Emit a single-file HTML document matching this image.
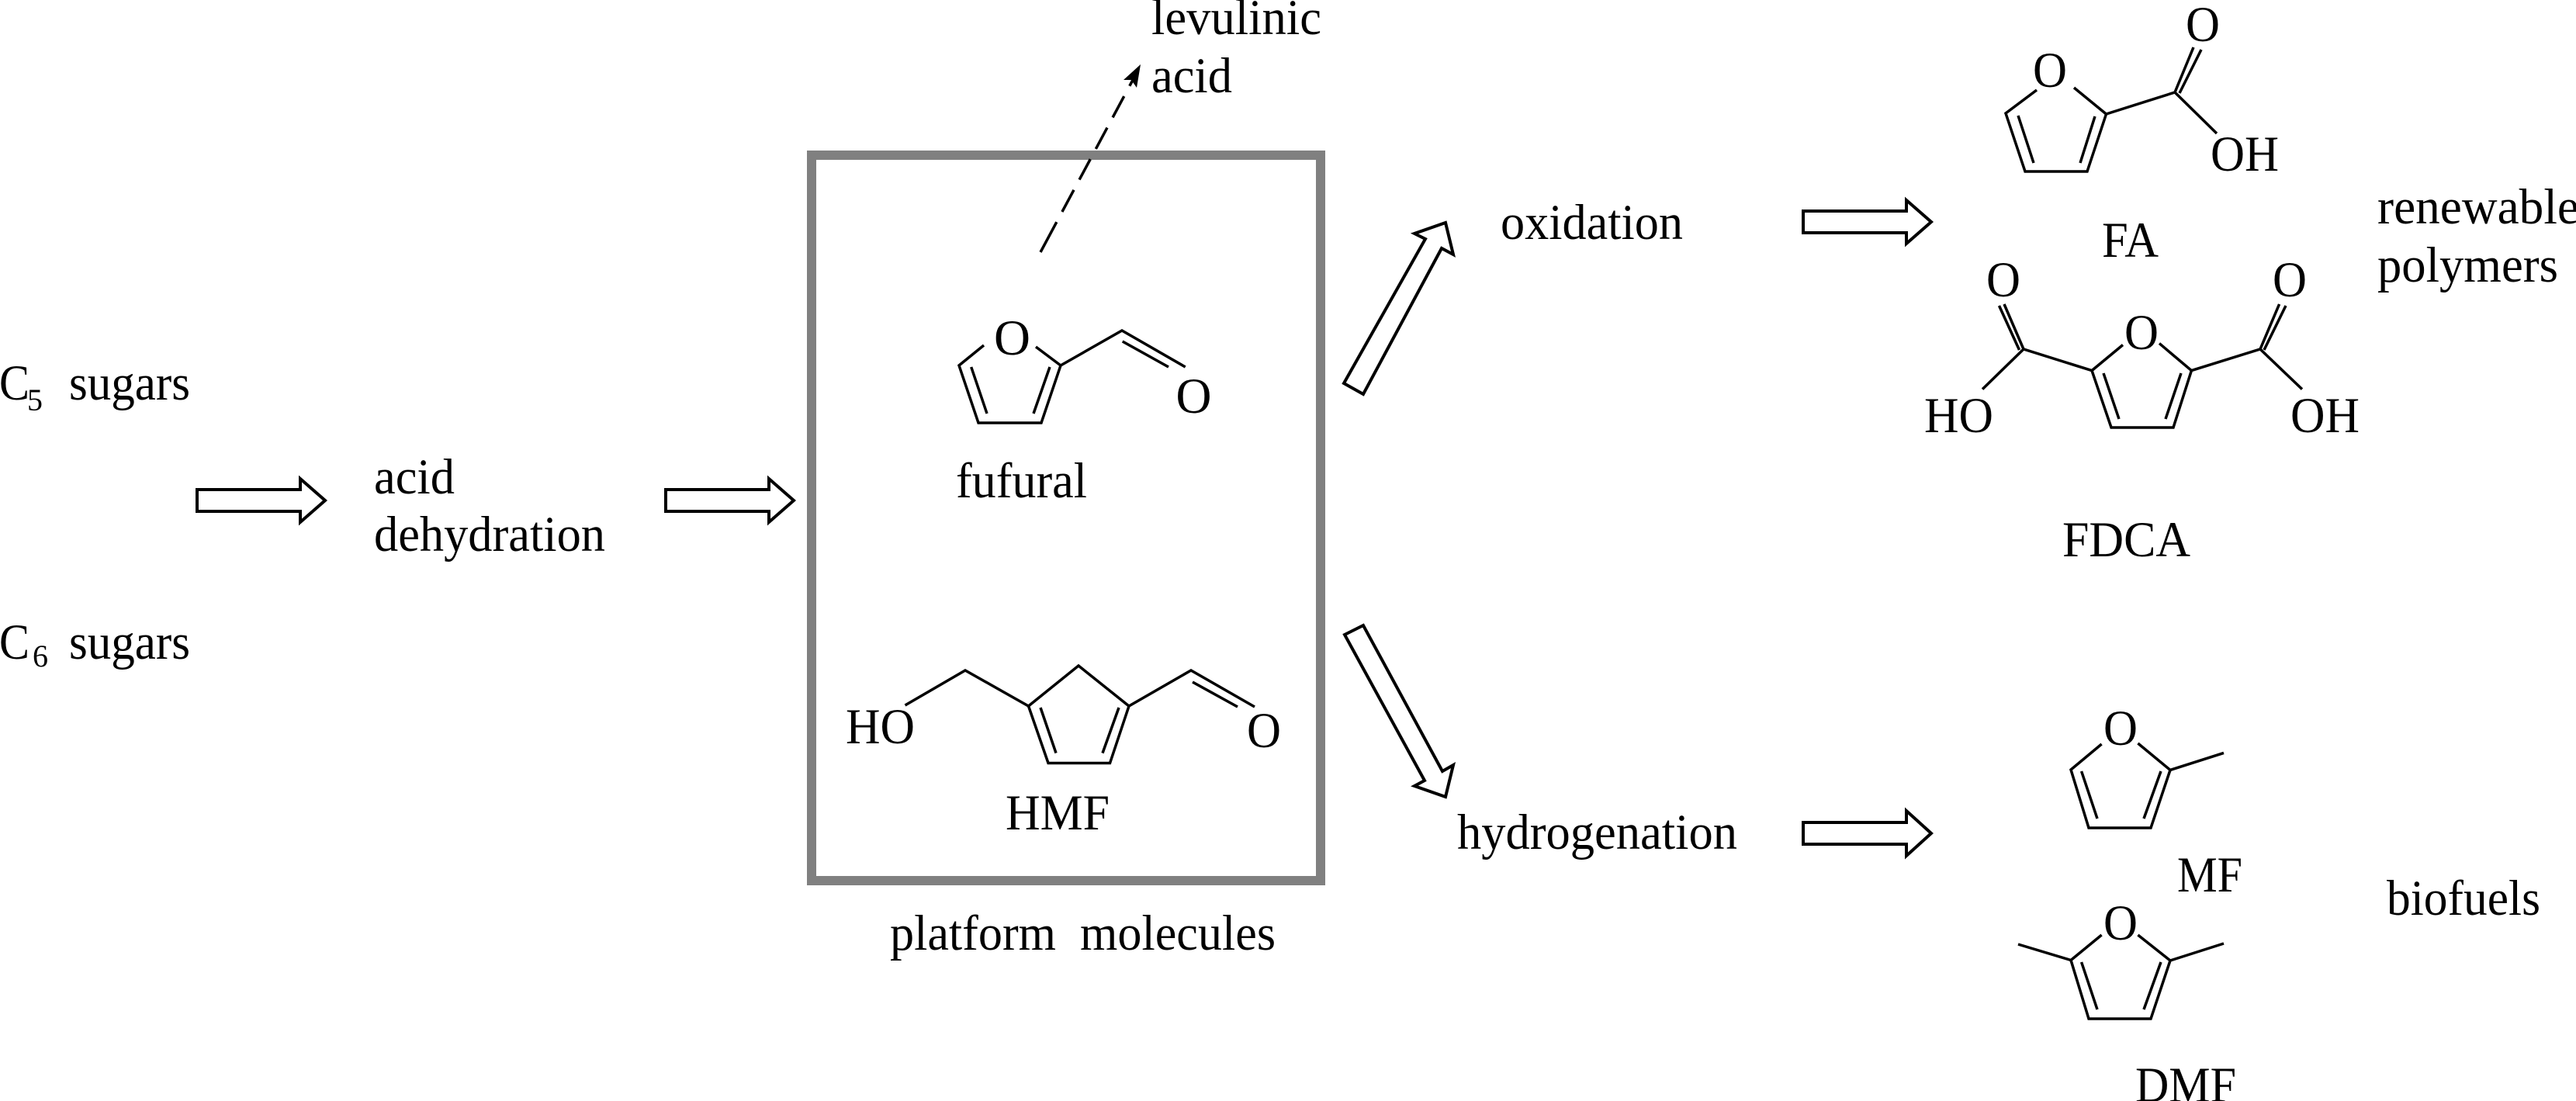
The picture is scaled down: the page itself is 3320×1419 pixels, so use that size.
<!DOCTYPE html>
<html>
<head>
<meta charset="utf-8">
<title>Platform molecules diagram</title>
<style>
html,body{margin:0;padding:0;background:#fff;width:3320px;height:1419px;overflow:hidden}
svg{display:block}
text{font-family:"Liberation Serif",serif;font-size:65px;fill:#000}
.b{fill:none;stroke:#000;stroke-width:3.5;stroke-linecap:butt;stroke-linejoin:miter}
.a{fill:#fff;stroke:#000;stroke-width:4;stroke-linejoin:miter}
</style>
</head>
<body>
<svg xmlns="http://www.w3.org/2000/svg" width="3320" height="1419" viewBox="0 0 3320 1419">
<rect width="3320" height="1419" fill="#fff"/>

<!-- platform box -->
<rect x="1046" y="200" width="656" height="935" fill="none" stroke="#808080" stroke-width="12"/>

<!-- dashed arrow to levulinic acid -->
<line x1="1341" y1="325" x2="1460" y2="103" stroke="#000" stroke-width="3.5" stroke-dasharray="44 15 32 15 30 15 31 15 31 15 30"/>
<polygon points="1470,83 1465,113 1458,103 1448,103" fill="#000"/>

<!-- block arrows -->
<polygon class="a" points="254,631 387,631 387,617 419,645 387,673 387,659 254,659"/>
<polygon class="a" points="858,631 991,631 991,617 1023,645 991,673 991,659 858,659"/>
<polygon class="a" points="2324,272 2457,272 2457,258 2489,286 2457,314 2457,300 2324,300"/>
<polygon class="a" points="2324,1060 2457,1060 2457,1045 2489,1074 2457,1103 2457,1088 2324,1088"/>
<polygon class="a" points="1732,494 1837,308 1823,301 1863,287 1873,328 1858,320 1757,508"/>
<polygon class="a" points="1733,818 1757,806 1859,994 1873,986 1863,1027 1823,1013 1836,1006"/>

<!-- fufural -->
<g class="b">
<polyline points="1268,445 1236,471 1261,545 1342,545 1367,471 1335,447"/>
<line x1="1251.7" y1="473" x2="1272" y2="533"/>
<line x1="1353" y1="473" x2="1332" y2="533"/>
<polyline points="1367,471 1446,426 1527.7,473"/>
<line x1="1446.7" y1="440" x2="1506" y2="473"/>
</g>

<!-- HMF -->
<g class="b">
<polyline points="1166.5,909 1244,864 1325.5,910"/>
<polygon points="1325.5,910 1390,858 1455,910 1430.5,983.5 1351,983.5"/>
<line x1="1341" y1="912" x2="1361" y2="970.6"/>
<line x1="1442" y1="912" x2="1421" y2="970.6"/>
<polyline points="1455,910 1535,864 1617,911"/>
<line x1="1537" y1="879" x2="1595" y2="911"/>
</g>

<!-- FA -->
<g class="b">
<polyline points="2625,116 2585,146 2610,221 2690,221 2714.5,147 2673,113"/>
<line x1="2601" y1="149" x2="2621" y2="210"/>
<line x1="2700" y1="150" x2="2681" y2="210"/>
<polyline points="2714.5,147 2803,119 2857,172"/>
<line x1="2803" y1="119" x2="2827" y2="61"/>
<line x1="2809" y1="120" x2="2837" y2="64"/>
</g>

<!-- FDCA -->
<g class="b">
<polyline points="2736,444.5 2696,477.6 2721,551 2801,551 2824.4,477.6 2783,442.6"/>
<line x1="2711" y1="481" x2="2731" y2="540"/>
<line x1="2811" y1="481" x2="2791" y2="540"/>
<polyline points="2696,477.6 2608,450 2555,501.6"/>
<line x1="2608" y1="450" x2="2583" y2="392"/>
<line x1="2602.5" y1="451" x2="2576.5" y2="394"/>
<polyline points="2824.4,477.6 2913,450 2967,501.6"/>
<line x1="2913" y1="450" x2="2937.6" y2="392"/>
<line x1="2918" y1="451" x2="2946" y2="394"/>
</g>

<!-- MF -->
<g class="b">
<polyline points="2708.6,959 2669,992 2692,1067 2772,1067 2797,992.4 2755.4,958"/>
<line x1="2682.6" y1="994" x2="2703" y2="1055"/>
<line x1="2785" y1="994" x2="2763" y2="1055"/>
<line x1="2797" y1="992.4" x2="2866" y2="970.4"/>
</g>

<!-- DMF -->
<g class="b">
<polyline points="2708.6,1205 2669,1237.5 2692,1313 2772,1313 2797,1238 2755.4,1205"/>
<line x1="2682.6" y1="1240" x2="2703" y2="1301"/>
<line x1="2785" y1="1240" x2="2763" y2="1301"/>
<line x1="2797" y1="1238" x2="2866" y2="1216"/>
<line x1="2669" y1="1237.5" x2="2601" y2="1217"/>
</g>

<!-- labels -->
<text x="-1" y="515" textLength="39" lengthAdjust="spacingAndGlyphs">C</text>
<text x="35" y="529" style="font-size:40px" textLength="20" lengthAdjust="spacingAndGlyphs">5</text>
<text x="89" y="515" textLength="156" lengthAdjust="spacingAndGlyphs">sugars</text>
<text x="-1" y="849" textLength="39" lengthAdjust="spacingAndGlyphs">C</text>
<text x="42" y="859" style="font-size:40px" textLength="20" lengthAdjust="spacingAndGlyphs">6</text>
<text x="89" y="849" textLength="156" lengthAdjust="spacingAndGlyphs">sugars</text>

<text x="482" y="636" textLength="104" lengthAdjust="spacingAndGlyphs">acid</text>
<text x="482" y="710" textLength="298" lengthAdjust="spacingAndGlyphs">dehydration</text>

<text x="1484" y="44" textLength="219" lengthAdjust="spacingAndGlyphs">levulinic</text>
<text x="1484" y="119" textLength="104" lengthAdjust="spacingAndGlyphs">acid</text>

<text x="1281" y="457" textLength="47" lengthAdjust="spacingAndGlyphs">O</text>
<text x="1515.5" y="532" textLength="46" lengthAdjust="spacingAndGlyphs">O</text>
<text x="1232" y="641" textLength="169" lengthAdjust="spacingAndGlyphs">fufural</text>

<text x="1090" y="958" textLength="89" lengthAdjust="spacingAndGlyphs">HO</text>
<text x="1607" y="963" textLength="44" lengthAdjust="spacingAndGlyphs">O</text>
<text x="1296" y="1069" textLength="134" lengthAdjust="spacingAndGlyphs">HMF</text>
<text x="1147" y="1224" textLength="497" lengthAdjust="spacingAndGlyphs" xml:space="preserve">platform  molecules</text>

<text x="1934" y="308" textLength="235" lengthAdjust="spacingAndGlyphs">oxidation</text>
<text x="1878" y="1094" textLength="361" lengthAdjust="spacingAndGlyphs">hydrogenation</text>

<text x="2620" y="112" textLength="44" lengthAdjust="spacingAndGlyphs">O</text>
<text x="2817" y="53" textLength="44" lengthAdjust="spacingAndGlyphs">O</text>
<text x="2849" y="220" textLength="88" lengthAdjust="spacingAndGlyphs">OH</text>
<text x="2709" y="331" textLength="73" lengthAdjust="spacingAndGlyphs">FA</text>

<text x="3064" y="288" textLength="260" lengthAdjust="spacingAndGlyphs">renewable</text>
<text x="3064" y="363" textLength="233" lengthAdjust="spacingAndGlyphs">polymers</text>

<text x="2738" y="450" textLength="44" lengthAdjust="spacingAndGlyphs">O</text>
<text x="2560" y="382" textLength="44" lengthAdjust="spacingAndGlyphs">O</text>
<text x="2929" y="382" textLength="44" lengthAdjust="spacingAndGlyphs">O</text>
<text x="2480" y="557" textLength="89" lengthAdjust="spacingAndGlyphs">HO</text>
<text x="2952" y="557" textLength="89" lengthAdjust="spacingAndGlyphs">OH</text>
<text x="2658" y="717" textLength="165" lengthAdjust="spacingAndGlyphs">FDCA</text>

<text x="2711" y="960" textLength="44" lengthAdjust="spacingAndGlyphs">O</text>
<text x="2806" y="1149" textLength="84" lengthAdjust="spacingAndGlyphs">MF</text>
<text x="3076" y="1179" textLength="198" lengthAdjust="spacingAndGlyphs">biofuels</text>
<text x="2711" y="1211" textLength="44" lengthAdjust="spacingAndGlyphs">O</text>
<text x="2752" y="1420" textLength="130" lengthAdjust="spacingAndGlyphs">DMF</text>
</svg>
</body>
</html>
